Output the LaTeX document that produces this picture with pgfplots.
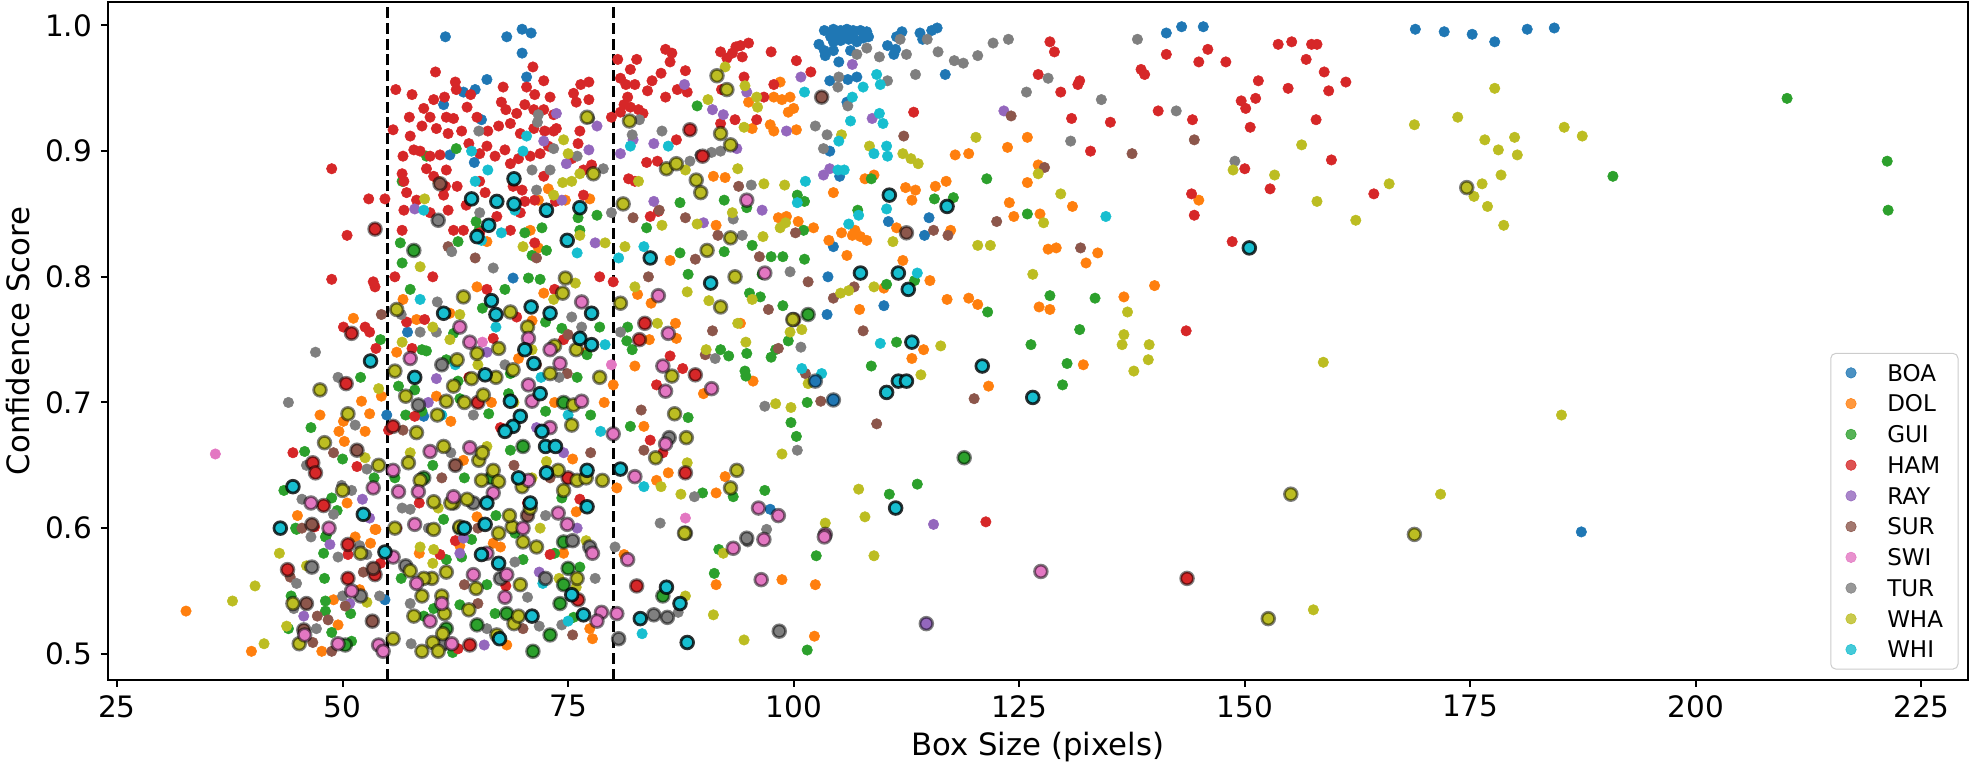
\documentclass[border=0pt]{standalone}
\usepackage{pgfplots}
\pgfplotsset{compat=1.18}
\usepackage{fontspec}
\setmainfont{DejaVu Sans}
\definecolor{cBOA}{HTML}{1F77B4}
\definecolor{cDOL}{HTML}{FF7F0E}
\definecolor{cGUI}{HTML}{2CA02C}
\definecolor{cHAM}{HTML}{D62728}
\definecolor{cRAY}{HTML}{9467BD}
\definecolor{cSUR}{HTML}{8C564B}
\definecolor{cSWI}{HTML}{E377C2}
\definecolor{cTUR}{HTML}{7F7F7F}
\definecolor{cWHA}{HTML}{BCBD22}
\definecolor{cWHI}{HTML}{17BECF}
\newcommand{\tickfont}{\fontsize{11.8}{14}\selectfont}
\newcommand{\labfont}{\fontsize{12.3}{15}\selectfont}
\newcommand{\legfont}{\fontsize{9.2}{11}\selectfont}
\pgfplotsset{
  pp/.style={only marks, mark=*, mark size=2.1pt, mark options={draw=#1, fill=#1, line width=0.2pt},
    legend image code/.code={\draw[##1] plot coordinates {(0pt,0pt)};}},
  rr/.style={only marks, mark=*, mark size=2.55pt, mark options={fill=#1, draw=black, draw opacity=0.5, line width=1.1pt}, forget plot},
  ww/.style={only marks, mark=*, mark size=2.55pt, mark options={fill=#1, draw=black, draw opacity=0.8, line width=1.1pt}, forget plot},
}
\begin{document}
\begin{tikzpicture}
\begin{axis}[
  scale only axis, width=744pt, height=271.1pt,
  xmin=24.0, xmax=230.1, ymin=0.4795, ymax=1.0187,
  xtick={25,50,75,100,125,150,175,200,225},
  xticklabels={25,50,75,100,125,150,175,200,225},
  ytick={0.5,0.6,0.7,0.8,0.9,1.0},
  yticklabels={0.5,0.6,0.7,0.8,0.9,1.0},
  tick pos=left, tick align=outside, major tick length=2.8pt,
  tick style={black, line width=0.8pt},
  axis line style={line width=0.8pt},
  xticklabel style={font=\tickfont},
  yticklabel style={font=\tickfont},
  xlabel={\labfont Box Size (pixels)}, ylabel={\labfont Confidence Score},
  every axis x label/.style={at={(axis description cs:0.5,-0.1)}, anchor=center, font=\labfont},
  every axis y label/.style={at={(axis description cs:-0.0484,0.5)}, rotate=90, anchor=center, font=\labfont},
  clip=true,
  legend cell align=left,
  legend style={at={(1,0)}, anchor=south east, xshift=-3.6pt, yshift=4pt,
    draw=black!20, rounded corners=2pt, fill=white, fill opacity=0.8, text opacity=1,
    font=\legfont, inner xsep=6pt, inner ysep=4.5pt,
    row sep=5.7pt, column sep=12.4pt,
    nodes={inner sep=0pt, text height=6.6pt, text depth=0pt, font=\legfont}},
]
% ---------------- plain points ----------------
\addplot[pp=cBOA] coordinates {
(61.4,0.991)(68.2,0.991)(69.9,0.997)(70.9,0.994)(69.9,0.978)(66.0,0.957)(64.7,0.949)(63.4,0.947)(61.2,0.937)(65.4,0.925)(70.4,0.959)(61.9,0.897)(64.6,0.891)(68.9,0.799)(57.2,0.756)(54.9,0.690)(59.0,0.689)(54.7,0.543)
(103.4,0.996)(104.4,0.997)(105.2,0.996)(105.9,0.997)(106.6,0.996)(107.4,0.996)(108.1,0.995)(104.1,0.991)(104.8,0.992)(105.7,0.992)(106.6,0.991)(107.7,0.990)(108.3,0.991)(104.4,0.987)(105.2,0.988)(106.1,0.989)(107.0,0.987)(102.8,0.985)(103.4,0.980)(104.4,0.980)(103.5,0.976)(106.3,0.980)(105.0,0.971)(110.4,0.984)(111.3,0.981)(111.1,0.977)(112.0,0.995)(111.4,0.991)(114.0,0.994)(114.3,0.989)(115.3,0.996)(115.9,0.998)(106.0,0.957)(107.0,0.959)(104.0,0.956)(116.8,0.961)(105.9,0.939)(104.0,0.900)(105.1,0.880)(110.5,0.844)(115.0,0.847)(114.5,0.833)(104.4,0.824)
(97.4,0.615)(103.7,0.770)(110.0,0.777)(103.8,0.800)
(141.3,0.994)(143.0,0.999)(145.4,0.999)(168.9,0.997)(172.1,0.995)(175.2,0.993)(177.7,0.987)(181.3,0.997)(184.3,0.998)(187.3,0.597)
};
\addlegendentry{BOA}
\addplot[pp=cDOL] coordinates {
(32.65,0.534)(39.9,0.502)(51.4,0.593)(53.1,0.588)(53.7,0.599)(44.4,0.542)(49.0,0.543)(51.9,0.551)(49.5,0.523)(47.7,0.502)(68.2,0.507)(66.7,0.588)(63.0,0.586)
(74.5,0.580)(77.4,0.520)(77.7,0.512)(81.2,0.579)(91.4,0.555)(98.7,0.559)(102.3,0.514)(102.4,0.555)
(51.2,0.767)(54.3,0.705)(52.1,0.701)(53.0,0.691)(50.1,0.685)(49.6,0.677)(52.5,0.677)(50.2,0.669)(53.6,0.599)
(64.9,0.792)(72.3,0.787)(61.9,0.771)(58.2,0.766)(56.7,0.782)(60.4,0.705)(64.9,0.609)(75.9,0.613)
(60.6,0.876)(72.8,0.870)(74.7,0.861)(77.4,0.862)(70.8,0.837)(71.7,0.823)(66.0,0.828)(71.7,0.861)
(98.5,0.955)(97.8,0.943)(98.7,0.941)(99.6,0.943)(100.0,0.934)(99.4,0.931)(95.0,0.939)(95.4,0.918)(97.4,0.921)(97.8,0.916)(100.3,0.917)(91.1,0.880)(92.4,0.879)(104.4,0.867)(117.9,0.897)(119.4,0.898)(107.9,0.878)(108.9,0.881)(112.4,0.871)(113.5,0.869)(113.1,0.861)(115.7,0.872)(116.9,0.876)(117.4,0.837)(111.4,0.839)(106.5,0.833)(106.8,0.837)(107.4,0.832)(108.1,0.829)(105.3,0.835)(103.9,0.829)(105.9,0.817)(98.3,0.847)(99.2,0.848)(100.5,0.844)(102.2,0.839)(91.4,0.841)(86.3,0.813)(112.1,0.813)
(91.4,0.628)(92.4,0.641)(86.1,0.644)(84.8,0.638)(80.4,0.632)(83.4,0.681)(90.0,0.707)(82.4,0.729)(80.0,0.714)(84.0,0.750)(87.0,0.751)(86.9,0.763)(82.7,0.786)(84.2,0.779)(94.1,0.763)(95.5,0.717)(107.3,0.774)(110.0,0.791)(114.4,0.742)(113.1,0.735)(121.6,0.713)(117.0,0.782)(119.4,0.783)(120.4,0.778)(115.1,0.797)
(125.9,0.911)(123.7,0.903)(127.1,0.889)(125.9,0.875)(123.9,0.859)(124.4,0.848)(127.3,0.850)(130.9,0.856)(144.9,0.861)(128.2,0.822)(129.1,0.823)(133.7,0.819)(132.4,0.811)(140.0,0.793)(136.6,0.784)(127.2,0.776)(128.4,0.774)(132.1,0.730)
(63.4,0.654)(66.5,0.700)(69.5,0.735)(73.5,0.700)(77.0,0.740)(58.5,0.580)(62.0,0.685)(75.5,0.655)(79.0,0.700)(71.0,0.765)(56.0,0.740)(67.5,0.585)
(45.0,0.610)(50.5,0.620)(47.5,0.690)
};
\addlegendentry{DOL}
\addplot[pp=cGUI] coordinates {
(190.8,0.880)(210.1,0.942)(221.2,0.892)(221.3,0.853)
(125.9,0.850)(128.4,0.785)(133.4,0.783)(131.7,0.758)(126.3,0.746)(130.3,0.731)(129.8,0.714)
(44.9,0.599)(48.1,0.593)(47.9,0.580)(44.3,0.546)(48.1,0.542)(48.1,0.534)(50.9,0.532)(48.8,0.517)(51.0,0.510)(62.2,0.501)(60.1,0.536)(63.0,0.539)(66.9,0.532)(63.2,0.577)(64.3,0.591)
(76.3,0.569)(75.6,0.529)(91.2,0.564)(91.7,0.583)(101.5,0.503)(102.5,0.578)
(54.2,0.750)(45.8,0.661)(50.0,0.655)(48.8,0.624)(49.4,0.614)(44.8,0.600)(48.2,0.594)(70.6,0.799)(71.9,0.798)(74.3,0.759)(77.1,0.738)(62.3,0.755)(58.8,0.742)(59.3,0.741)(62.8,0.717)(61.5,0.734)(56.2,0.713)(58.0,0.710)(68.6,0.723)(68.4,0.707)(58.8,0.693)(61.2,0.607)(69.1,0.596)(74.3,0.624)
(62.6,0.902)(59.3,0.896)(56.6,0.876)(64.8,0.844)(65.1,0.837)(62.8,0.828)(72.6,0.821)(71.0,0.817)(76.1,0.847)(76.3,0.837)(72.1,0.839)(56.4,0.827)(56.6,0.811)(70.2,0.835)(78.2,0.849)
(89.3,0.936)(87.4,0.859)(92.3,0.861)(94.8,0.855)(100.4,0.865)(101.2,0.860)(115.6,0.862)(117.7,0.863)(121.4,0.878)(107.1,0.853)(101.1,0.837)(108.6,0.878)(83.7,0.839)(87.4,0.819)(92.3,0.820)(95.4,0.825)(97.5,0.816)(98.8,0.816)(101.2,0.814)
(89.9,0.628)(93.3,0.625)(96.8,0.630)(110.6,0.627)(113.7,0.635)(81.9,0.681)(88.3,0.688)(99.7,0.684)(100.3,0.673)(101.5,0.700)(81.5,0.749)(82.1,0.742)(81.6,0.760)(91.9,0.742)(92.8,0.737)(94.8,0.739)(94.6,0.725)(94.7,0.721)(95.1,0.787)(96.3,0.784)(98.8,0.777)(98.0,0.742)(97.5,0.736)(99.4,0.749)(96.5,0.802)(110.3,0.794)(111.4,0.748)(108.6,0.729)(121.5,0.772)(113.4,0.797)(88.3,0.802)
(63.0,0.703)(66.2,0.691)(68.6,0.662)(72.5,0.693)(72.5,0.764)(57.0,0.690)(60.0,0.650)(63.5,0.640)(67.0,0.610)(70.0,0.575)(73.5,0.580)(56.5,0.560)(59.0,0.530)(66.0,0.555)(77.5,0.690)(78.5,0.760)(76.0,0.720)(65.5,0.775)(68.0,0.790)(57.5,0.790)(55.8,0.640)(61.5,0.575)
(43.5,0.630)(46.5,0.680)(52.0,0.720)(48.0,0.560)(44.0,0.520)(53.5,0.640)
};
\addlegendentry{GUI}
\addplot[pp=cHAM] coordinates {
(128.4,0.987)(128.9,0.979)(127.1,0.961)(131.7,0.956)(131.5,0.953)(129.6,0.947)(130.8,0.926)(135.1,0.923)(132.9,0.900)(138.5,0.965)(138.9,0.961)(140.4,0.932)(141.3,0.977)(145.9,0.981)(144.9,0.971)(147.9,0.971)(144.2,0.925)(151.5,0.956)(149.6,0.940)(150.1,0.934)(151.2,0.942)(150.6,0.919)(153.7,0.985)(155.2,0.987)(157.4,0.985)(158.0,0.985)(156.8,0.973)(158.8,0.963)(161.2,0.955)(154.8,0.950)(159.3,0.948)(157.9,0.925)(159.6,0.893)(150.0,0.886)(152.8,0.870)(144.1,0.866)(144.4,0.849)(164.3,0.866)(148.6,0.828)(143.5,0.757)
(84.1,0.670)(85.5,0.660)(84.8,0.714)(86.3,0.737)(87.7,0.727)(80.0,0.796)(121.3,0.605)
(80.5,0.973)(82.6,0.973)(81.9,0.965)(80.8,0.958)(81.4,0.953)(82.4,0.953)(83.8,0.948)(84.3,0.956)(85.3,0.962)(85.8,0.981)(86.5,0.978)(86.3,0.971)(88.0,0.964)(87.1,0.949)(88.2,0.947)(85.8,0.943)(81.6,0.943)(81.2,0.937)(81.9,0.935)(82.8,0.933)(83.3,0.930)(79.8,0.927)(80.8,0.931)(91.9,0.979)(93.2,0.978)(93.6,0.983)(94.1,0.984)(95.0,0.986)(94.3,0.975)(92.6,0.974)(97.5,0.979)(100.3,0.972)(101.9,0.963)(94.5,0.959)(97.8,0.953)(96.7,0.943)(95.9,0.925)(93.5,0.925)(91.9,0.922)(92.0,0.949)(87.0,0.909)(83.7,0.891)(84.9,0.892)(81.7,0.878)(82.4,0.876)(84.1,0.848)(85.0,0.852)(113.3,0.931)
(60.3,0.963)(55.9,0.949)(57.7,0.945)(62.5,0.955)(62.6,0.949)(64.2,0.945)(67.8,0.951)(71.1,0.967)(72.3,0.956)(70.4,0.951)(71.3,0.945)(73.0,0.943)(75.6,0.946)(76.4,0.953)(77.3,0.955)(75.9,0.939)(77.3,0.941)(60.1,0.941)(59.0,0.934)(59.7,0.927)(61.3,0.943)(61.5,0.927)(62.3,0.926)(63.8,0.935)(64.9,0.927)(67.6,0.939)(68.1,0.933)(69.3,0.930)(70.2,0.937)(71.2,0.933)(72.3,0.933)(73.4,0.929)(57.4,0.927)(55.6,0.917)(58.8,0.920)(60.4,0.918)(61.7,0.914)(63.2,0.916)(66.1,0.916)(67.3,0.920)(68.6,0.922)(69.7,0.914)(71.2,0.918)(72.4,0.916)(73.7,0.918)(76.3,0.916)(76.1,0.906)(57.5,0.912)(57.9,0.901)(56.7,0.896)(58.6,0.900)(59.7,0.896)(60.8,0.897)(59.3,0.886)(61.5,0.885)(64.0,0.906)(65.2,0.898)(66.0,0.904)(66.9,0.896)(68.0,0.901)(68.6,0.890)(69.5,0.894)(70.8,0.896)(71.9,0.898)(72.8,0.904)(73.4,0.916)(75.4,0.894)(76.7,0.885)(77.6,0.889)(56.6,0.882)(56.8,0.876)(60.1,0.880)(61.4,0.872)(62.7,0.872)(65.2,0.876)(68.9,0.872)(69.9,0.869)(71.3,0.861)(72.3,0.880)(57.1,0.867)(56.8,0.853)(58.2,0.861)(59.7,0.851)(61.2,0.865)(61.7,0.853)(63.7,0.857)(65.8,0.867)(67.1,0.848)(69.7,0.851)(70.2,0.860)(73.6,0.860)(76.7,0.865)(56.6,0.837)(62.3,0.837)(63.4,0.837)(65.2,0.835)(68.6,0.837)(71.3,0.827)(48.8,0.886)(52.9,0.862)(54.7,0.862)(50.5,0.833)
(48.8,0.798)(53.4,0.796)(55.8,0.800)(53.6,0.792)(50.1,0.760)(53.0,0.756)(53.7,0.743)(51.6,0.649)(46.9,0.601)
(66.0,0.790)(57.1,0.764)(59.1,0.766)(57.7,0.743)(66.7,0.751)(69.3,0.768)(58.0,0.689)(55.1,0.678)(76.3,0.623)
(50.6,0.579)(54.2,0.572)(60.8,0.579)(62.8,0.504)(68.1,0.554)(73.0,0.579)
(64.0,0.720)(67.5,0.680)(70.5,0.620)(74.5,0.750)(58.5,0.620)(62.5,0.590)(78.5,0.800)(60.0,0.800)(73.5,0.790)(56.0,0.600)(44.5,0.660)(52.5,0.760)
};
\addlegendentry{HAM}
\addplot[pp=cRAY] coordinates {
(123.3,0.932)(87.9,0.953)(91.0,0.933)(92.2,0.929)(94.8,0.947)(100.8,0.959)(99.2,0.916)(106.5,0.969)(108.7,0.926)(104.0,0.886)(103.3,0.881)(84.5,0.906)(84.5,0.860)(96.5,0.853)(93.7,0.902)(80.8,0.898)(82.2,0.909)(90.0,0.843)
(73.7,0.930)(77.3,0.901)(74.8,0.890)(72.3,0.908)(58.0,0.854)(74.3,0.861)(72.6,0.851)(78.0,0.827)(78.2,0.920)(77.1,0.926)
(60.4,0.719)(52.2,0.623)(53.0,0.608)(48.6,0.587)(45.7,0.530)(50.8,0.540)(65.7,0.507)(71.8,0.565)(63.4,0.592)(115.5,0.603)
(66.0,0.740)(71.5,0.680)(76.0,0.600)(59.5,0.700)(63.0,0.580)(74.5,0.660)
};
\addlegendentry{RAY}
\addplot[pp=cSUR] coordinates {
(124.1,0.928)(137.5,0.898)(144.4,0.909)(127.8,0.887)(131.8,0.823)
(93.9,0.872)(91.6,0.833)(88.0,0.847)(85.1,0.853)(82.2,0.847)(112.2,0.912)(115.5,0.837)(117.1,0.833)(122.5,0.844)(100.2,0.835)(89.1,0.814)(96.2,0.816)
(83.4,0.662)(83.1,0.694)(109.2,0.683)(103.0,0.701)(83.9,0.800)(91.0,0.757)(90.2,0.738)(97.2,0.774)(98.3,0.743)(101.3,0.723)(101.6,0.796)(104.4,0.783)(106.7,0.792)(107.7,0.757)(120.0,0.703)
(61.7,0.824)(64.7,0.815)(71.5,0.815)(54.3,0.770)(75.0,0.754)(74.9,0.723)(56.7,0.678)
(44.2,0.561)(47.2,0.530)(48.4,0.527)(50.3,0.538)(52.3,0.565)(46.7,0.509)(48.8,0.502)(65.0,0.540)(70.0,0.520)
(61.0,0.640)(65.0,0.600)(69.0,0.650)(73.0,0.640)(77.5,0.660)(58.0,0.720)(71.5,0.730)(63.5,0.555)(75.5,0.515)(49.0,0.660)(45.5,0.600)
};
\addlegendentry{SUR}
\addplot[pp=cSWI] coordinates {
(35.9,0.659)(65.5,0.748)(88.0,0.608)(79.8,0.730)
};
\addlegendentry{SWI}
\addplot[pp=cTUR] coordinates {
(123.8,0.989)(138.1,0.989)(128.2,0.958)(125.8,0.947)(134.1,0.941)(142.4,0.932)(130.7,0.908)(148.9,0.892)
(108.1,0.982)(107.0,0.977)(109.5,0.975)(111.8,0.989)(112.5,0.977)(114.8,0.989)(116.0,0.979)(117.8,0.972)(118.8,0.970)(120.4,0.976)(122.1,0.986)(113.5,0.961)(110.4,0.956)(105.0,0.959)(104.9,0.951)(106.0,0.936)(102.4,0.920)(103.7,0.913)(103.3,0.902)(85.4,0.916)(82.1,0.913)(82.9,0.925)(88.5,0.892)(89.6,0.897)(90.9,0.899)(91.9,0.900)(95.3,0.873)(94.3,0.833)(93.3,0.846)(79.8,0.851)(78.9,0.886)
(65.1,0.916)(71.7,0.929)(71.6,0.923)(73.4,0.902)(76.0,0.896)(73.0,0.885)(71.0,0.885)(71.5,0.869)(65.2,0.851)(66.7,0.807)(62.1,0.820)(77.4,0.926)
(85.2,0.604)(97.0,0.599)(89.0,0.625)(100.4,0.662)(96.8,0.697)(100.8,0.744)(91.3,0.735)(80.8,0.756)(99.6,0.804)
(51.4,0.682)(52.7,0.647)(49.9,0.634)(51.0,0.630)(45.5,0.623)(49.0,0.611)(75.4,0.768)(60.4,0.756)(58.6,0.756)(56.6,0.616)(57.5,0.615)
(46.5,0.593)(51.9,0.586)(49.5,0.577)(52.7,0.579)(44.9,0.556)(44.6,0.536)(50.0,0.546)(54.1,0.546)(47.1,0.520)(57.6,0.508)(57.5,0.540)(71.8,0.522)(69.1,0.573)
(74.3,0.523)(80.2,0.585)(87.2,0.533)(94.9,0.589)
(62.0,0.660)(64.5,0.690)(68.0,0.730)(74.0,0.720)(76.5,0.760)(59.5,0.600)(70.5,0.545)(72.5,0.610)(66.0,0.520)(78.0,0.560)(56.5,0.770)(60.5,0.780)(47.0,0.740)(44.0,0.700)(49.5,0.720)(46.0,0.650)
};
\addlegendentry{TUR}
\addplot[pp=cWHA] coordinates {
(185.4,0.919)(187.4,0.912)(185.1,0.690)
(127.1,0.882)(129.6,0.866)(127.7,0.843)(148.7,0.885)(153.3,0.881)(156.3,0.905)(158.0,0.860)(162.3,0.845)(166.0,0.874)(168.8,0.921)(173.6,0.927)(177.7,0.950)(176.6,0.909)(178.1,0.901)(179.9,0.911)(180.2,0.897)(176.3,0.874)(178.4,0.881)(175.4,0.864)(176.9,0.856)(178.7,0.841)(126.5,0.802)(137.0,0.772)(136.6,0.754)(136.4,0.746)(139.4,0.746)(139.3,0.734)(137.7,0.725)(158.7,0.732)(171.7,0.627)(157.6,0.535)
(92.4,0.967)(94.6,0.952)(95.9,0.943)(96.0,0.935)(90.5,0.941)(94.5,0.919)(93.8,0.886)(96.7,0.874)(99.0,0.873)(88.0,0.885)(82.8,0.876)(85.4,0.841)(89.3,0.842)(96.6,0.832)(98.5,0.839)(99.1,0.843)(105.3,0.913)(108.4,0.904)(112.1,0.898)(113.0,0.894)(113.8,0.890)(120.2,0.911)(120.4,0.825)(121.8,0.825)(111.0,0.828)(79.1,0.827)(81.3,0.824)(93.2,0.851)
(74.5,0.909)(75.0,0.898)(74.4,0.875)(75.4,0.876)(76.3,0.882)(73.4,0.865)(70.0,0.824)(76.3,0.833)(59.1,0.862)(58.6,0.808)
(103.5,0.604)(107.9,0.609)(107.2,0.631)(87.5,0.627)(85.3,0.633)(88.2,0.652)(98.7,0.659)(98.0,0.699)(99.7,0.696)(84.9,0.763)(82.4,0.792)(88.2,0.788)(90.6,0.781)(90.3,0.742)(93.8,0.763)(94.7,0.748)(95.4,0.782)(99.6,0.756)(100.9,0.758)(101.6,0.715)(105.2,0.787)(106.1,0.789)(108.9,0.792)(116.3,0.745)(114.1,0.722)
(54.0,0.711)(52.5,0.656)(75.8,0.795)(73.4,0.782)(61.9,0.750)(56.6,0.748)(71.0,0.742)(66.0,0.665)(72.6,0.653)(60.6,0.616)(71.9,0.600)
(37.8,0.542)(40.3,0.554)(41.3,0.508)(52.7,0.541)(43.8,0.522)(60.0,0.572)(58.6,0.585)(60.1,0.583)
(75.9,0.553)(88.0,0.546)(91.1,0.531)(92.2,0.580)(94.5,0.511)(108.9,0.578)
(60.0,0.760)(63.0,0.770)(69.0,0.700)(71.0,0.640)(74.0,0.560)(57.5,0.660)(65.0,0.730)(77.0,0.590)(43.0,0.580)(46.0,0.570)(52.5,0.610)
};
\addlegendentry{WHA}
\addplot[pp=cWHI] coordinates {
(101.2,0.947)(107.7,0.951)(109.2,0.961)(109.6,0.953)(106.5,0.943)(106.3,0.924)(109.5,0.930)(109.9,0.922)(105.0,0.908)(104.9,0.885)(105.6,0.885)(108.9,0.898)(110.3,0.904)(110.4,0.896)(101.3,0.876)(100.4,0.859)(110.3,0.854)(106.1,0.842)(107.2,0.849)(81.9,0.904)(86.1,0.904)(83.4,0.824)(80.6,0.815)
(70.4,0.912)(70.0,0.900)(64.3,0.900)(66.1,0.885)(64.7,0.876)(59.0,0.853)(67.6,0.835)(76.0,0.819)(65.4,0.829)(69.1,0.853)
(83.4,0.633)(78.6,0.677)(79.1,0.746)(100.9,0.727)(103.1,0.723)(109.6,0.747)(113.7,0.803)(58.6,0.782)
(72.2,0.556)(75.0,0.526)(83.2,0.516)(134.6,0.848)
(62.5,0.730)(67.0,0.760)(72.0,0.720)(61.0,0.690)(75.0,0.690)
};
\addlegendentry{WHI}
% ---------------- ringed points ----------------
\addplot[rr=cBOA] coordinates {(104.4,0.702)(102.4,0.717)};
\addplot[rr=cGUI] coordinates {
(50.3,0.507)(64.9,0.523)(68.2,0.532)(71.1,0.502)(74.5,0.589)(75.0,0.568)(74.5,0.555)(74.1,0.540)(73.0,0.515)(85.5,0.546)(118.9,0.656)(101.6,0.770)(57.9,0.821)
(63.0,0.600)(70.0,0.665)(66.5,0.640)(59.0,0.640)(74.5,0.700)(61.5,0.520)
};
\addplot[rr=cHAM] coordinates {
(89.9,0.896)(88.5,0.917)(53.6,0.838)(51.0,0.755)(50.4,0.715)(46.7,0.652)(47.0,0.644)(47.9,0.618)(55.6,0.681)
(50.6,0.587)(53.6,0.563)(43.9,0.567)(50.6,0.560)(64.1,0.507)(76.1,0.543)(82.6,0.554)
(88.0,0.644)(89.1,0.722)(82.9,0.750)(83.5,0.763)(100.0,0.766)(143.6,0.560)(65.0,0.700)(75.0,0.640)
};
\addplot[rr=cRAY] coordinates {(114.7,0.524)};
\addplot[rr=cSUR] coordinates {
(103.1,0.943)(112.5,0.835)(60.8,0.874)(51.6,0.662)(46.6,0.603)(53.4,0.568)(46.0,0.540)(53.3,0.526)(45.7,0.519)(70.5,0.610)(62.5,0.650)
};
\addplot[rr=cTUR] coordinates {
(60.6,0.845)(86.2,0.672)(94.8,0.592)(58.4,0.698)(46.6,0.569)(52.0,0.546)(61.2,0.508)(77.4,0.585)(80.6,0.512)(84.5,0.531)(86.0,0.529)(98.4,0.518)
(64.5,0.620)(72.5,0.560)(57.0,0.570)(67.5,0.560)(75.5,0.590)(61.0,0.730)
};
\addplot[rr=cWHA] coordinates {
(91.5,0.960)(92.6,0.949)(91.9,0.914)(93.0,0.905)(81.8,0.924)(85.9,0.886)(87.0,0.890)(89.2,0.877)(89.7,0.867)(81.1,0.858)(93.0,0.831)(90.4,0.821)
(77.1,0.927)(77.8,0.882)
(88.0,0.596)(93.0,0.632)(93.7,0.646)(78.8,0.638)(84.7,0.656)(88.1,0.672)(86.8,0.691)(86.5,0.721)(80.8,0.779)(91.9,0.776)(93.5,0.800)(99.9,0.766)
(50.6,0.691)(48.0,0.668)(63.4,0.784)(74.7,0.799)(74.4,0.787)(75.9,0.742)(56.0,0.774)(64.9,0.739)(67.3,0.743)(68.6,0.772)(73.0,0.723)(68.9,0.726)(65.6,0.706)(64.3,0.719)(62.7,0.734)(62.3,0.713)(55.8,0.725)(61.5,0.701)(75.6,0.698)(75.4,0.682)(76.0,0.638)(73.9,0.646)(69.9,0.633)(65.1,0.654)(66.7,0.646)(67.3,0.637)(65.4,0.638)(63.8,0.623)(62.3,0.620)(60.1,0.621)(58.6,0.638)(57.3,0.652)(58.2,0.676)(61.2,0.665)(60.1,0.599)(63.0,0.601)(68.8,0.601)(70.8,0.616)
(45.2,0.508)(55.6,0.512)(58.8,0.502)(60.0,0.509)(60.6,0.502)(61.1,0.516)(61.3,0.532)(57.9,0.530)(58.8,0.546)(61.0,0.546)(59.9,0.560)(57.5,0.566)(69.0,0.524)(67.1,0.515)(69.7,0.555)(64.8,0.552)(61.5,0.565)(70.0,0.589)(67.3,0.596)
(87.9,0.596)(152.6,0.528)(174.6,0.871)(155.1,0.627)(168.8,0.595)
(62.0,0.620)(65.5,0.660)(68.5,0.610)(71.5,0.585)(74.5,0.630)(77.0,0.640)(60.5,0.690)(63.5,0.700)(67.0,0.720)(70.5,0.760)(73.5,0.745)(57.0,0.705)(59.0,0.560)(64.0,0.535)(69.5,0.530)(76.0,0.560)(55.8,0.600)(78.5,0.720)
(50.0,0.630)(47.5,0.710)(54.0,0.650)(52.0,0.580)(44.5,0.540)
};
\addplot[rr=cSWI] coordinates {
(94.8,0.861)(96.1,0.616)(98.3,0.610)(103.5,0.595)(82.4,0.641)(85.8,0.667)(80.0,0.675)(90.9,0.711)(85.8,0.709)(85.5,0.729)(86.1,0.755)(85.0,0.785)(96.8,0.803)(127.4,0.5655)
(77.7,0.580)(78.7,0.533)(78.2,0.526)(80.4,0.532)(81.6,0.575)(93.3,0.584)(96.7,0.591)(96.4,0.559)(103.4,0.593)
(45.8,0.515)(49.5,0.508)(54.0,0.507)(54.5,0.502)(62.1,0.508)(59.7,0.526)(58.2,0.556)(55.6,0.577)(68.2,0.563)(64.5,0.563)
(53.4,0.632)(64.1,0.748)(70.6,0.751)(73.0,0.742)(74.1,0.731)(70.6,0.714)(71.0,0.701)(76.5,0.701)(70.6,0.638)(66.7,0.628)(64.1,0.664)(62.3,0.625)(58.4,0.629)(56.2,0.629)(55.6,0.646)(59.7,0.661)(58.0,0.603)(73.9,0.612)(74.9,0.603)
(61.0,0.540)(66.0,0.580)(70.0,0.600)(73.0,0.680)(63.0,0.760)(76.5,0.780)(57.5,0.735)(68.0,0.545)(48.5,0.600)(51.0,0.550)(46.5,0.620)
};
\addplot[ww=cWHI] coordinates {
(110.6,0.865)(117.0,0.856)(84.1,0.815)
(69.0,0.878)(64.3,0.862)(67.1,0.860)(69.0,0.858)(72.6,0.853)(76.3,0.855)(66.2,0.841)(74.9,0.829)(64.9,0.832)
(80.8,0.647)(113.1,0.748)(110.3,0.708)(111.6,0.717)(112.5,0.717)(120.9,0.729)(112.7,0.790)(111.6,0.803)(107.4,0.803)(111.3,0.616)(90.8,0.795)
(53.1,0.733)(44.5,0.633)(52.3,0.611)(43.1,0.600)(66.5,0.781)(70.9,0.776)(73.0,0.771)(77.6,0.771)(76.3,0.751)(77.6,0.746)(61.2,0.771)(70.2,0.742)(71.2,0.731)(71.9,0.707)(65.8,0.722)(68.6,0.701)(69.7,0.689)(68.9,0.681)(68.0,0.677)(72.1,0.677)(72.5,0.665)(73.6,0.665)(72.6,0.644)(77.1,0.646)(65.8,0.603)(77.1,0.617)(70.8,0.620)
(54.7,0.581)(65.4,0.579)(67.3,0.572)(67.4,0.512)(75.4,0.547)(76.7,0.531)(85.9,0.553)(87.4,0.540)(83.0,0.528)(88.2,0.509)
(150.5,0.823)(126.5,0.704)
(66.0,0.620)(69.5,0.640)(63.5,0.600)(71.0,0.530)(58.0,0.720)(67.0,0.770)
};
% ---------------- dashed lines ----------------
\addplot[black, line width=1.2pt, dash pattern=on 4.4pt off 1.9pt, forget plot] coordinates {(55,0.4795)(55,1.0187)};
\addplot[black, line width=1.2pt, dash pattern=on 4.4pt off 1.9pt, forget plot] coordinates {(80,0.4795)(80,1.0187)};
\end{axis}
\pgfresetboundingbox
\path[use as bounding box] ([xshift=-43.2pt,yshift=-34pt]current axis.south west) rectangle ([xshift=0.6pt,yshift=0.8pt]current axis.north east);
\end{tikzpicture}
\end{document}
